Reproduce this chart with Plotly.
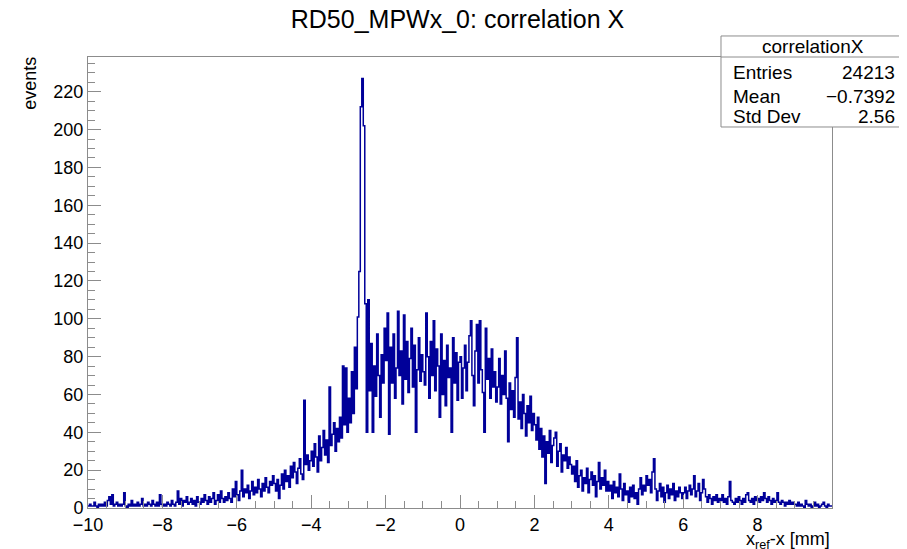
import numpy as np
import plotly.graph_objects as go

# ---------------- data ----------------
x_min, x_max = -10.0, 10.0
title_text = "RD50_MPWx_0: correlation X"
hist_name = "correlationX"
stat_labels = ["Entries", "Mean", "Std Dev"]
stat_values = ["24213", "\u22120.7392", "2.56"]
x_tick_vals = [-10, -8, -6, -4, -2, 0, 2, 4, 6, 8]
x_tick_text = ["\u221210", "\u22128", "\u22126", "\u22124", "\u22122", "0", "2", "4", "6", "8"]
y_tick_vals = [0, 20, 40, 60, 80, 100, 120, 140, 160, 180, 200, 220]
y_max = 238.35

seg_m10 = [1,2,1,1,3,1,0,2,1,2,1,3,1,4,6,2,7,1,2,3,1,2,1,2,8]
seg_m9 = [1,0,2,1,4,1,2,1,3,1,2,5,1,2,1,3,2,1,4,2,1,3,1,7,2]
seg_m8 = [1,2,1,3,2,1,4,2,1,3,9,2,5,1,4,3,6,2,3,5,2,4,1,6,3]
seg_m7 = [2,5,3,7,4,2,6,3,5,8,2,4,7,3,9,5,3,6,4,8,5,3,10,6,14]
seg_m6 = [7,4,9,20,6,10,8,12,5,9,14,7,11,8,15,10,6,13,9,16,11,8,14,12,17]
seg_m5 = [13,9,15,5,12,18,10,20,14,17,11,22,16,24,19,13,21,26,18,15,57,23,28,20,25]
seg_m4 = [30,22,34,27,19,38,25,32,41,28,36,24,64,33,39,45,30,42,35,48,37,75,44,74,40]
seg_m3 = [58,45,72,50,85,63,101,125,212,227,202,108,40,110,62,87,40,75,59,92,70,48,81,66,95]
seg_m2 = [78,103,39,85,66,92,58,74,104,70,83,55,102,68,88,61,79,95,64,86,40,73,90,67,81]
seg_m1 = [72,65,103,80,58,88,70,99,62,84,75,48,92,60,78,54,86,69,74,40,90,66,82,57,77]
seg_p0 = [80,58,74,86,62,77,91,99,70,54,83,97,66,99,73,61,40,95,68,79,58,84,64,72,56]
seg_p1 = [64,79,55,70,60,83,58,35,66,52,62,48,69,90,47,56,42,60,50,38,54,45,59,41,50]
seg_p2 = [44,36,48,31,42,27,38,13,35,29,41,24,33,37,40,22,30,34,19,28,25,32,21,27,23]
seg_p3 = [18,22,14,25,11,17,20,9,16,13,21,8,15,19,12,17,6,14,24,10,16,12,20,9,14]
seg_p4 = [9,12,5,14,8,11,6,18,10,4,13,7,9,3,11,6,12,5,8,2,10,16,7,12,9]
seg_p5 = [17,12,15,8,19,26,10,4,9,13,6,11,3,8,12,5,10,7,13,4,9,6,11,8,5]
seg_p6 = [8,11,5,9,12,7,10,17,6,9,13,4,8,15,10,6,3,7,5,2,6,4,7,3,5]
seg_p7 = [4,7,3,5,2,6,14,4,3,2,5,3,6,4,2,5,3,7,8,4,3,5,2,6,4]
seg_p8 = [5,3,6,4,8,5,3,6,4,2,5,3,4,8,3,2,4,3,1,3,2,4,2,3,2]
seg_p9 = [2,1,3,1,2,1,0,4,2,1,2,0,1,3,1,2,0,1,2,3,1,0,2,1,1]

counts = (seg_m10 + seg_m9 + seg_m8 + seg_m7 + seg_m6 + seg_m5 + seg_m4 + seg_m3
          + seg_m2 + seg_m1 + seg_p0 + seg_p1 + seg_p2 + seg_p3 + seg_p4 + seg_p5
          + seg_p6 + seg_p7 + seg_p8 + seg_p9)

# ---------------- figure ----------------
n = len(counts)
edges = np.linspace(x_min, x_max, n + 1)
xs = list(edges)
ys = list(counts) + [counts[-1]]

GRAY = "#8c8c8c"
FONT = "Liberation Sans, Arial, Helvetica, sans-serif"
TICK_SIZE = 18
STAT_SIZE = 19

fig = go.Figure()
fig.add_trace(go.Scatter(
    x=xs, y=ys, mode="lines",
    line=dict(color="#000099", width=1.5, shape="hv"),
    hoverinfo="skip", showlegend=False,
))

fig.update_layout(
    width=899, height=541,
    margin=dict(l=80, r=75, t=49, b=41),
    paper_bgcolor="white", plot_bgcolor="white",
    font=dict(family=FONT, size=TICK_SIZE, color="black"),
    title=dict(text=title_text, x=0.5, xanchor="center", y=0.98, yanchor="middle",
               font=dict(family=FONT, size=25, color="black")),
    showlegend=False,
)

fig.update_xaxes(
    range=[x_min, x_max], showgrid=False, zeroline=False,
    showline=True, linecolor=GRAY, linewidth=1, mirror=True,
    tickmode="array", tickvals=x_tick_vals, ticktext=x_tick_text,
    ticks="inside", ticklen=13, tickcolor=GRAY, tickwidth=1,
    tickfont=dict(family=FONT, size=TICK_SIZE, color="black"),
    minor=dict(tickmode="linear", tick0=x_min, dtick=0.5, ticks="inside",
               ticklen=7, tickcolor=GRAY, tickwidth=1, showgrid=False),
)
fig.update_yaxes(
    range=[0, y_max], showgrid=False, zeroline=False,
    showline=True, linecolor=GRAY, linewidth=1, mirror=True,
    tickmode="array", tickvals=y_tick_vals,
    ticks="inside", ticklen=13, tickcolor=GRAY, tickwidth=1,
    tickfont=dict(family=FONT, size=TICK_SIZE, color="black"),
    minor=dict(tickmode="linear", tick0=0, dtick=5, ticks="inside",
               ticklen=7, tickcolor=GRAY, tickwidth=1, showgrid=False),
)

# axis titles (ROOT style: aligned to the axis end)
fig.add_annotation(text="events", xref="paper", yref="paper", x=-0.078, y=1.006,
                   xanchor="center", yanchor="top", textangle=-90, showarrow=False,
                   font=dict(family=FONT, size=TICK_SIZE, color="black"))
fig.add_annotation(text="x<sub>ref</sub>-x [mm]", xref="paper", yref="paper", x=1.0, y=-0.071,
                   xanchor="right", yanchor="middle", showarrow=False,
                   font=dict(family=FONT, size=TICK_SIZE, color="black"))

# stats box (paper coords: x=(px-88)/744, y=(508-py)/451)
bx0, bx1 = 0.8508, 1.0981
by0, by1 = 0.8448, 1.0466
bsep = 1.0
fig.add_shape(type="rect", xref="paper", yref="paper", x0=bx0, x1=bx1, y0=by0, y1=by1,
              fillcolor="white", line=dict(color=GRAY, width=1), layer="above")
fig.add_shape(type="line", xref="paper", yref="paper", x0=bx0, x1=bx1, y0=bsep, y1=bsep,
              line=dict(color=GRAY, width=1), layer="above")
fig.add_annotation(text=hist_name, xref="paper", yref="paper", x=(bx0 + bx1) / 2, y=1.0222,
                   xanchor="center", yanchor="middle", showarrow=False,
                   font=dict(family=FONT, size=STAT_SIZE, color="black"))
row_y = [0.9667, 0.9135, 0.867]
for lab, val, yy in zip(stat_labels, stat_values, row_y):
    fig.add_annotation(text=lab, xref="paper", yref="paper", x=0.8642, y=yy,
                       xanchor="left", yanchor="middle", showarrow=False,
                       font=dict(family=FONT, size=STAT_SIZE, color="black"))
    fig.add_annotation(text=val, xref="paper", yref="paper", x=1.0874, y=yy,
                       xanchor="right", yanchor="middle", showarrow=False,
                       font=dict(family=FONT, size=STAT_SIZE, color="black"))

fig.write_html("out.html")
